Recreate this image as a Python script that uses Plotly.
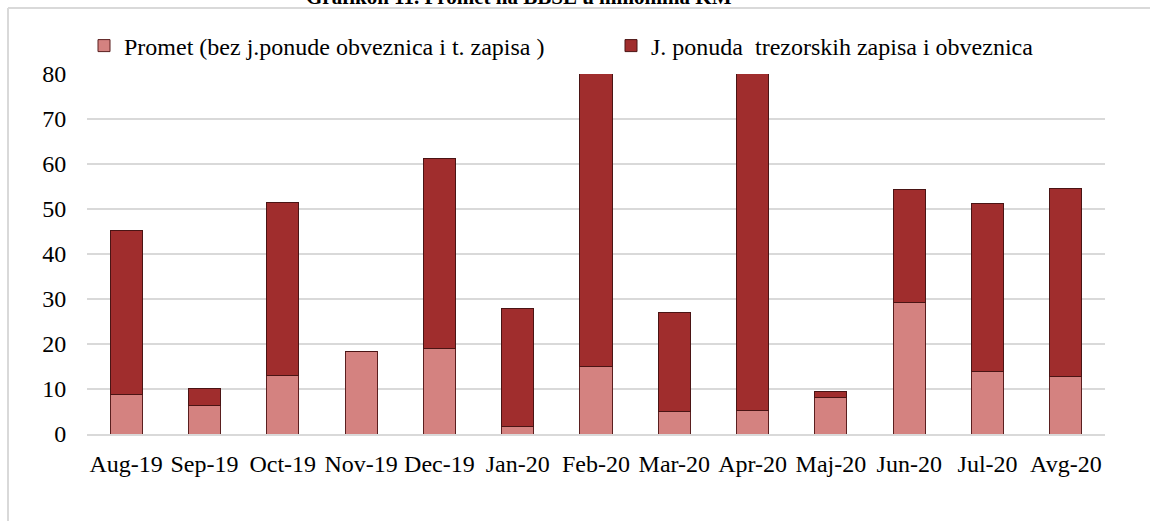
import plotly.graph_objects as go

months = ["Aug-19", "Sep-19", "Oct-19", "Nov-19", "Dec-19", "Jan-20", "Feb-20",
          "Mar-20", "Apr-20", "Maj-20", "Jun-20", "Jul-20", "Avg-20"]
promet = [8.8, 6.4, 13.0, 18.4, 19.1, 1.6, 15.1, 4.9, 5.3, 8.2, 29.3, 13.8, 12.7]
ponuda = [36.5, 3.8, 38.5, 0.0, 42.2, 26.2, 90.0, 22.2, 100.0, 1.3, 25.0, 37.4, 41.9]

name_promet = "Promet (bez j.ponude obveznica i t. zapisa )"
name_ponuda = "J. ponuda  trezorskih zapisa i obveznica"

W, H = 1150, 521
L, R, T, B = 87, 45, 74, 87
FONT = "Liberation Serif, Times New Roman, serif"
FS = 24

fig = go.Figure()
fig.add_trace(go.Bar(
    x=months, y=promet, name=name_promet, legend="legend",
    marker=dict(color="#d48280", line=dict(color="#5a1f1f", width=1)),
))
fig.add_trace(go.Bar(
    x=months, y=ponuda, name=name_ponuda, legend="legend2",
    marker=dict(color="#a02d2d", line=dict(color="#4a1414", width=1)),
))

# pixel -> paper helpers
pw, ph = W - L - R, H - T - B
def px(x):
    return (x - L) / pw
def py(y):
    return (H - B - y) / ph

# frame of the chart box (top and left edges visible)
fig.add_shape(type="line", xref="paper", yref="paper",
              x0=px(8), x1=px(W), y0=py(8), y1=py(8),
              line=dict(color="#d9d9d9", width=2))
fig.add_shape(type="line", xref="paper", yref="paper",
              x0=px(8), x1=px(8), y0=py(8), y1=py(H),
              line=dict(color="#d9d9d9", width=2))

fig.add_annotation(
    text="<b>Grafikon 11. Promet na BBSE u milionima KM</b>",
    xref="paper", yref="paper", x=px(519), y=py(11),
    xanchor="center", yanchor="bottom", showarrow=False,
    font=dict(family=FONT, size=21, color="black"),
)

leg = dict(orientation="h", yanchor="middle", xanchor="left",
           font=dict(family=FONT, size=FS), bgcolor="rgba(0,0,0,0)")

fig.update_layout(
    width=W, height=H,
    barmode="stack",
    bargap=0.59,
    plot_bgcolor="white",
    paper_bgcolor="white",
    font=dict(family=FONT, size=FS, color="black"),
    margin=dict(l=L, r=R, t=T, b=B),
    showlegend=True,
    legend=dict(leg, x=px(84), y=py(46)),
    legend2=dict(leg, x=px(611), y=py(46)),
    xaxis=dict(
        showgrid=False, showline=True, linecolor="#d9d9d9", linewidth=2,
        ticks="outside", ticklen=7, tickcolor="rgba(0,0,0,0)",
        tickfont=dict(family=FONT, size=FS),
    ),
    yaxis=dict(
        range=[0, 80], dtick=10, showgrid=True, gridcolor="#d9d9d9", gridwidth=2,
        zeroline=False, showline=False,
        ticks="outside", ticklen=15, tickcolor="rgba(0,0,0,0)",
        tickfont=dict(family=FONT, size=FS),
    ),
)

# drop the page's default body margin so the figure sits at the window corner
fig.write_html("out.html", config=dict(displayModeBar=False),
               post_script="document.body.style.margin='0';")
